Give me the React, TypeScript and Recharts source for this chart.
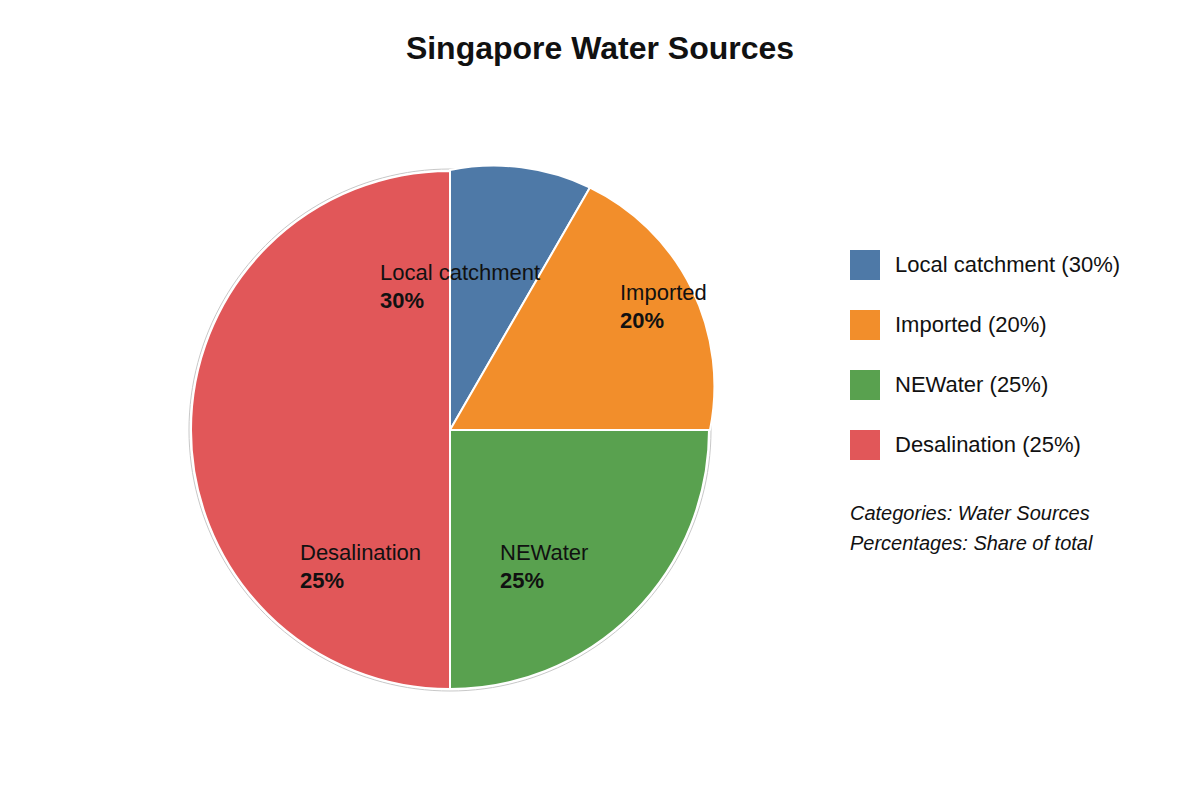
import { PieChart, Pie, Cell, Legend, Sector } from 'recharts'

// categories and the share printed on labels / legend
const sources = ['Local catchment', 'Imported', 'NEWater', 'Desalination']
const sharePct = [30, 20, 25, 25]
// slice sizes as drawn in the picture (degrees of the circle)
const sliceDegrees = [30, 60, 90, 180]
const colors = ['#4e79a7', '#f28e2b', '#59a14f', '#e15759']
const notes = ['Categories: Water Sources', 'Percentages: Share of total']

const data = sources.map((name, i) => ({ name, value: sliceDegrees[i], pct: sharePct[i] }))
const outline = [{ name: 'outline', value: 1 }]

// label anchor offsets from the pie centre
const labelOffsets = [
  [-70, -158],
  [170, -138],
  [50, 122],
  [-150, 122],
]

const FONT = '"Liberation Sans", Arial, sans-serif'
const RAD = Math.PI / 180

// the top-right quarter of the reference is drawn with a flatter arc
// (svg arc of a smaller radius between 12 o'clock and 3 o'clock), so it bulges
function SliceShape(props: any) {
  const { cx, cy, outerRadius, startAngle, endAngle, fill, stroke, strokeWidth } = props
  const hi = Math.max(startAngle, endAngle)
  const lo = Math.min(startAngle, endAngle)
  if (hi > 90.01 || lo < -0.01) return <Sector {...props} />
  const r = outerRadius + 1
  const R2 = r * 0.848
  const h = r / Math.SQRT2
  const dist = Math.sqrt(R2 * R2 - h * h)
  const c2x = cx + r / 2 - dist / Math.SQRT2
  const c2y = cy - r / 2 + dist / Math.SQRT2
  const hit = (a: number) => {
    const dx = Math.cos(a * RAD)
    const dy = -Math.sin(a * RAD)
    const wx = cx - c2x
    const wy = cy - c2y
    const wd = wx * dx + wy * dy
    const t = -wd + Math.sqrt(wd * wd - (wx * wx + wy * wy) + R2 * R2)
    return [cx + t * dx, cy + t * dy]
  }
  const [x1, y1] = hit(hi)
  const [x2, y2] = hit(lo)
  const d = `M${cx},${cy}L${x1},${y1}A${R2},${R2} 0 0 1 ${x2},${y2}Z`
  return <path d={d} fill={fill} stroke={stroke} strokeWidth={strokeWidth} strokeLinejoin="round" />
}

function SliceLabel(props: any) {
  const { cx, cy, index } = props
  const [dx, dy] = labelOffsets[index]
  const x = cx + dx
  const y = cy + dy
  return (
    <g>
      <text x={x} y={y} fontSize={22} fill="#111" dominantBaseline="central" fontFamily={FONT}>
        {sources[index]}
      </text>
      <text x={x} y={y + 28} fontSize={22} fontWeight="bold" fill="#111" dominantBaseline="central" fontFamily={FONT}>
        {sharePct[index]}%
      </text>
    </g>
  )
}

function SideLegend() {
  return (
    <div style={{ fontFamily: FONT, fontSize: 22, color: '#111' }}>
      {sources.map((s, i) => (
        <div key={s} style={{ display: 'flex', alignItems: 'center', height: 30, marginBottom: 30 }}>
          <div style={{ width: 30, height: 30, background: colors[i], marginRight: 15 }} />
          <span>{s} ({sharePct[i]}%)</span>
        </div>
      ))}
      <div style={{ fontStyle: 'italic', fontSize: 20, marginTop: 38, lineHeight: '30px' }}>
        {notes.map((n) => (
          <div key={n}>{n}</div>
        ))}
      </div>
    </div>
  )
}

export default function App() {
  return (
    <div style={{ margin: -8, width: 1200, height: 800, background: '#fff', position: 'relative' }}>
      <div
        style={{
          position: 'absolute',
          top: 30,
          left: 0,
          width: 1200,
          textAlign: 'center',
          fontFamily: FONT,
          fontWeight: 'bold',
          fontSize: 32,
          color: '#111',
        }}
      >
        Singapore Water Sources
      </div>
      <PieChart width={1200} height={800} margin={{ top: 0, right: 0, bottom: 0, left: 0 }}>
        <Pie
          data={outline}
          dataKey="value"
          cx={450}
          cy={430}
          outerRadius={261}
          fill="none"
          stroke="#c8c8c8"
          strokeWidth={1}
          isAnimationActive={false}
        />
        <Pie
          data={data}
          dataKey="value"
          cx={450}
          cy={430}
          outerRadius={259}
          startAngle={90}
          endAngle={-270}
          stroke="#fff"
          strokeWidth={2}
          shape={SliceShape}
          label={SliceLabel}
          labelLine={false}
          isAnimationActive={false}
        >
          {data.map((d, i) => (
            <Cell key={d.name} fill={colors[i]} />
          ))}
        </Pie>
        <Legend
          layout="vertical"
          align="right"
          verticalAlign="top"
          content={<SideLegend />}
          wrapperStyle={{ left: 850, top: 250, width: 340 }}
        />
      </PieChart>
    </div>
  )
}
